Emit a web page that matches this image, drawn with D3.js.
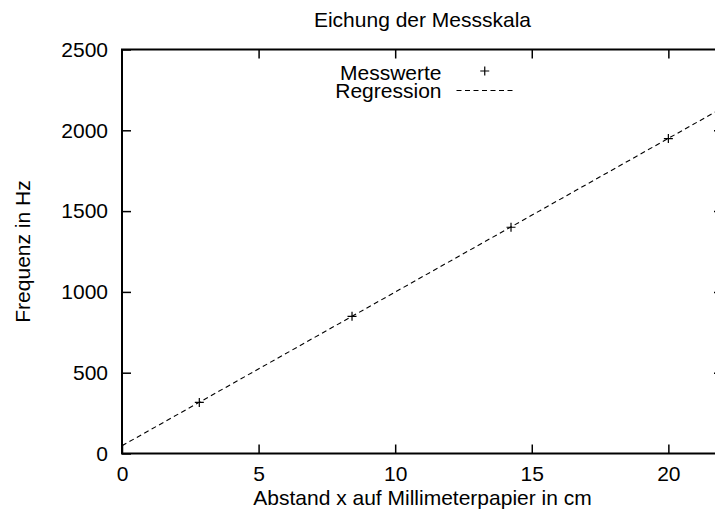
<!DOCTYPE html>
<html>
<head>
<meta charset="utf-8">
<script src="https://cdn.jsdelivr.net/npm/d3@7"></script>
<style>
  html, body { margin: 0; padding: 0; background: #fff; }
  svg { display: block; }
  text { font-family: "Liberation Sans", Arial, Helvetica, sans-serif; fill: #000; }
</style>
</head>
<body>
<svg id="chart" width="715" height="516"></svg>
<script>
// Measured distances (cm) and calibrated frequencies (Hz)
const abstand = [2.83, 8.42, 14.24, 20.0];
const frequenz = [316, 849, 1400, 1949];

// Linear fit f = slope * x + intercept
const regSlope = 95.1;
const regIntercept = 48;

const xTicks = [0, 5, 10, 15, 20];
const yTicks = [0, 500, 1000, 1500, 2000, 2500];

const title = "Eichung der Messskala";
const xLabel = "Abstand x auf Millimeterpapier in cm";
const yLabel = "Frequenz in Hz";
const legendPoints = "Messwerte";
const legendLine = "Regression";

const svg = d3.select("#chart");
const plotLeft = 122, plotRight = 723, plotTop = 49.5, plotBottom = 453.5;
const fontSize = 21;

const x = d3.scaleLinear().domain([0, 22]).range([plotLeft, plotRight]);
const y = d3.scaleLinear().domain([0, 2500]).range([plotBottom, plotTop]);

svg.append("defs").append("clipPath").attr("id", "plotClip")
  .append("rect").attr("x", plotLeft).attr("y", plotTop)
  .attr("width", plotRight - plotLeft).attr("height", plotBottom - plotTop);

// Axes with inward ticks on all four sides
function styleAxis(g, showText) {
  g.select(".domain").remove();
  g.selectAll(".tick line").attr("stroke", "#000").attr("stroke-width", 1.5);
  g.selectAll(".tick text").attr("font-size", fontSize)
    .attr("font-family", "'Liberation Sans', Arial, sans-serif");
  if (!showText) g.selectAll(".tick text").remove();
}

svg.append("g").attr("transform", `translate(0,${plotBottom})`)
  .call(d3.axisBottom(x).tickValues(xTicks).tickSize(-9).tickPadding(12.5).tickFormat(d3.format("d")))
  .call(g => styleAxis(g, true));
svg.append("g").attr("transform", `translate(0,${plotTop})`)
  .call(d3.axisTop(x).tickValues(xTicks.filter(d => d > 0)).tickSize(-9))
  .call(g => styleAxis(g, false));
svg.append("g").attr("transform", `translate(${plotLeft},0)`)
  .call(d3.axisLeft(y).tickValues(yTicks).tickSize(-9).tickPadding(14).tickFormat(d3.format("d")))
  .call(g => styleAxis(g, true));
svg.append("g").attr("transform", `translate(${plotRight},0)`)
  .call(d3.axisRight(y).tickValues(yTicks.filter(d => d > 0 && d < 2500)).tickSize(-9))
  .call(g => styleAxis(g, false));

// Plot frame
svg.append("rect")
  .attr("x", plotLeft).attr("y", plotTop)
  .attr("width", plotRight - plotLeft).attr("height", plotBottom - plotTop)
  .attr("fill", "none").attr("stroke", "#000").attr("stroke-width", 2);

// Regression line
const xDom = x.domain();
svg.append("line")
  .attr("clip-path", "url(#plotClip)")
  .attr("x1", x(xDom[0])).attr("y1", y(regSlope * xDom[0] + regIntercept))
  .attr("x2", x(xDom[1])).attr("y2", y(regSlope * xDom[1] + regIntercept))
  .attr("stroke", "#000").attr("stroke-width", 1.1)
  .attr("stroke-dasharray", "5,3.5");

// Measurement points as plus markers
function plusPath(cx, cy, r) {
  return `M${cx - r},${cy}H${cx + r}M${cx},${cy - r}V${cy + r}`;
}
svg.append("g").selectAll("path")
  .data(abstand.map((d, i) => [d, frequenz[i]]))
  .join("path")
  .attr("d", d => plusPath(x(d[0]), y(d[1]), 4.5))
  .attr("stroke", "#000").attr("stroke-width", 1.2).attr("fill", "none");

// Title and axis labels
svg.append("text").attr("x", (plotLeft + plotRight) / 2).attr("y", 27)
  .attr("text-anchor", "middle").attr("font-size", fontSize).text(title);
svg.append("text").attr("x", (plotLeft + plotRight) / 2).attr("y", 505)
  .attr("text-anchor", "middle").attr("font-size", fontSize).text(xLabel);
svg.append("text")
  .attr("transform", `translate(30,${(plotTop + plotBottom) / 2}) rotate(-90)`)
  .attr("text-anchor", "middle").attr("font-size", fontSize).text(yLabel);

// Legend
const legendTextX = 441.5, sampleX1 = 456.5, sampleX2 = 515;
const row1 = 72.5, row2 = 90.5;
svg.append("text").attr("x", legendTextX).attr("y", row1).attr("dy", "0.36em")
  .attr("text-anchor", "end").attr("font-size", fontSize).text(legendPoints);
svg.append("path").attr("d", plusPath((sampleX1 + sampleX2) / 2 - 1, row1 - 1.5, 4.5))
  .attr("stroke", "#000").attr("stroke-width", 1.2);
svg.append("text").attr("x", legendTextX).attr("y", row2).attr("dy", "0.36em")
  .attr("text-anchor", "end").attr("font-size", fontSize).text(legendLine);
svg.append("line").attr("x1", sampleX1).attr("x2", sampleX2)
  .attr("y1", row2).attr("y2", row2)
  .attr("stroke", "#000").attr("stroke-width", 1.1)
  .attr("stroke-dasharray", "5,3.5");
</script>
</body>
</html>
